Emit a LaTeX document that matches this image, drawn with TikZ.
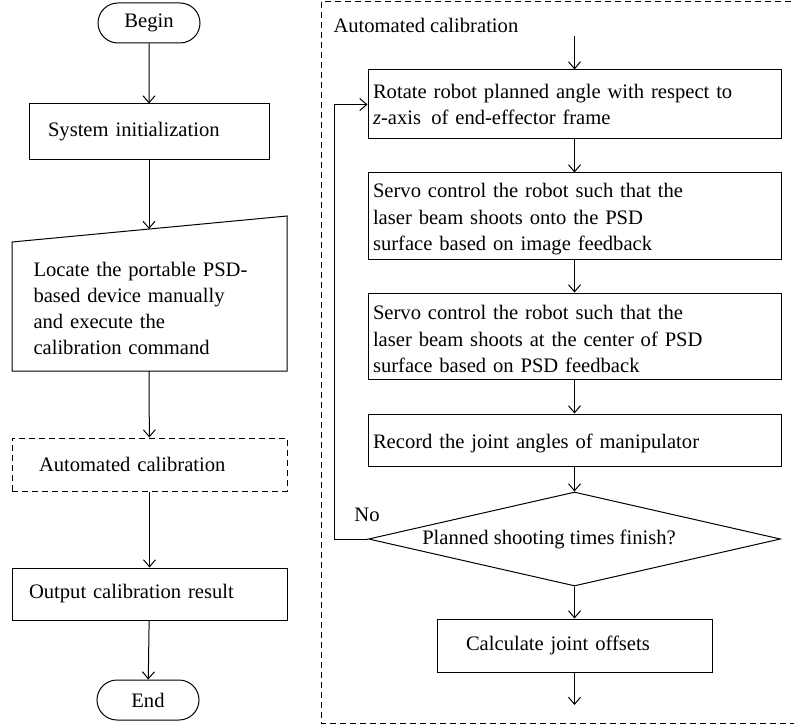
\documentclass[tikz,border=0pt]{standalone}
\usepackage{fontspec}
\setmainfont{Liberation Serif}
\usetikzlibrary{arrows.meta,shapes.misc,shapes.geometric}
\newcommand\topgap{\rule{0pt}{20.5pt}}
\begin{document}
\begin{tikzpicture}[x=1pt,y=-1pt,
  every node/.style={font=\fontsize{20.6}{26.8}\selectfont},
  line width=1pt,
  arr/.style={-{Straight Barb[length=7pt,width=12pt]}},
  term/.style={draw, rounded rectangle, minimum width=102pt, minimum height=40pt, inner sep=0pt},
  box/.style={draw, rectangle, inner ysep=0pt, align=left},
  dashbox/.style={dash pattern=on 6pt off 4pt},
  txt/.style={inner sep=0pt, align=left}]
\useasboundingbox (0,0) rectangle (794,727);
% left column
\node[term] (begin) at (149,23) {Begin};
\node[box, minimum width=240pt, minimum height=56pt, text width=202pt, inner xsep=19pt] (sys) at (149,132) {System initialization};
\draw (12,242) -- (287,216) -- (287,371) -- (12,371) -- cycle;
\node[txt, anchor=west, text width=250pt, font=\fontsize{20.6}{26}\selectfont] (loc) at (33,308) {Locate the portable PSD-\\based device manually\\and execute the\\calibration command};
\coordinate (loctop) at (149,229);
\coordinate (locbot) at (149,371);
\node[box, dashbox, minimum width=275pt, minimum height=53pt, text width=221pt, inner xsep=27pt] (auto) at (149.5,464.5) {Automated calibration};
\node[box, minimum width=275pt, minimum height=52pt, text width=241pt, inner xsep=17pt] (out) at (149.5,594) {Output calibration result};
\node[term] (end) at (148,700) {End};
\draw[arr] (begin) -- (sys);
\draw[arr] (sys) -- (loctop);
\draw[arr] (locbot) -- (auto);
\draw[arr] (auto) -- (out);
\draw[arr] (out) -- (end);
% right: automated calibration
\draw[dashbox] (321,2) rectangle (800,723);
\node[txt, anchor=west] (aclab) at (333,25) {Automated calibration};
\coordinate (acin) at (574.5,36);
\node[box, minimum width=413pt, minimum height=69pt, text width=403pt, inner xsep=5pt] (r1) at (574.5,104.5) {Rotate robot planned angle with respect to\\\textit{z}-axis\, of end-effector frame};
\node[box, minimum width=413pt, minimum height=86pt, text width=403pt, inner xsep=5pt] (r2) at (574.5,216) {\topgap Servo control the robot such that the\\laser beam shoots onto the PSD\\surface based on image feedback};
\node[box, minimum width=413pt, minimum height=86pt, text width=403pt, inner xsep=5pt] (r3) at (574.5,336) {\topgap Servo control the robot such that the\\laser beam shoots at the center of PSD\\surface based on PSD feedback};
\node[box, minimum width=413pt, minimum height=52pt, text width=403pt, inner xsep=5pt] (r4) at (574.5,440) {\topgap Record the joint angles of manipulator};
\node[draw, diamond, minimum width=412pt, minimum height=94pt, aspect=4.38, inner sep=0pt] (dec) at (574.5,539) {};
\node[txt] (dectxt) at (549,539) {Planned shooting times finish?};
\node[txt] (no) at (367,515) {No};
\node[box, minimum width=275pt, minimum height=53pt, text width=217pt, inner xsep=29pt] (r5) at (574.5,645.5) {Calculate joint offsets};
\coordinate (acout) at (574.5,705);
\coordinate (loopc) at (334,539);
\draw[arr] (acin) -- (r1);
\draw[arr] (r1) -- (r2);
\draw[arr] (r2) -- (r3);
\draw[arr] (r3) -- (r4);
\draw[arr] (r4) -- (dec);
\draw[arr] (dec) -- (r5);
\draw[arr] (r5) -- (acout);
\draw[arr] (dec.west) -- (loopc) |- (r1.west);
\end{tikzpicture}
\end{document}
